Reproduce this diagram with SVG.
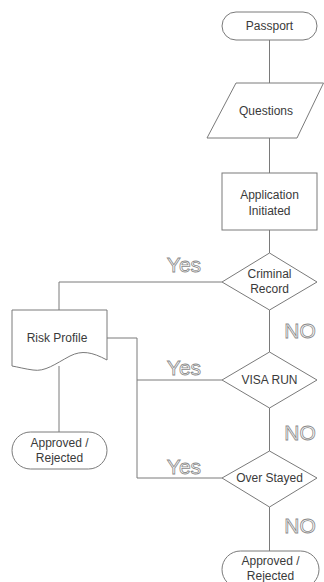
<svg xmlns="http://www.w3.org/2000/svg" width="324" height="582" viewBox="0 0 324 582">
<style>
.s{fill:#fff;stroke:#7a7a7a;stroke-width:1}
.c{fill:none;stroke:#7a7a7a;stroke-width:1}
.t{font-family:"Liberation Sans",Arial,sans-serif;font-size:12px;fill:#3a3a3a;text-anchor:middle}
.o{font-family:"Liberation Sans",Arial,sans-serif;font-size:21px;fill:#fff;stroke:#8a8a8a;stroke-width:0.8;text-anchor:middle}
</style>
<rect width="324" height="582" fill="#fff"/>
<g id="connectors">
<path class="c" d="M269.5,40V83M269.5,138V173M269.5,230V253M269.5,310V352M269.5,408V451M269.5,507V551"/>
<path class="c" d="M222,282H59V310"/>
<path class="c" d="M59,366V432"/>
<path class="c" d="M107,338H137V478H222"/>
<path class="c" d="M222,380H137"/>
</g>
<g id="labels">
<text class="o" x="184" y="272">Yes</text>
<text class="o" x="184" y="375">Yes</text>
<text class="o" x="184" y="474">Yes</text>
<text class="o" x="300" y="338">NO</text>
<text class="o" x="300" y="440">NO</text>
<text class="o" x="300" y="533">NO</text>
</g>
<g id="passport">
<rect class="s" x="222" y="12" width="95" height="28" rx="14"/>
<text class="t" x="269.5" y="30">Passport</text>
</g>
<g id="questions">
<polygon class="s" points="236,83 323.5,83 297,138 207,138"/>
<text class="t" x="266" y="115">Questions</text>
</g>
<g id="application">
<rect class="s" x="222" y="173" width="95" height="57"/>
<text class="t" x="269.5" y="199">Application</text>
<text class="t" x="269.5" y="215">Initiated</text>
</g>
<g id="criminal">
<polygon class="s" points="269.5,253 317,282 269.5,310 222,282"/>
<text class="t" x="269.5" y="278">Criminal</text>
<text class="t" x="269.5" y="293">Record</text>
</g>
<g id="visa">
<polygon class="s" points="269.5,352 317,380 269.5,408 222,380"/>
<text class="t" x="269.5" y="384">VISA RUN</text>
</g>
<g id="overstayed">
<polygon class="s" points="269.5,451 317,478 269.5,507 222,478"/>
<text class="t" x="269.5" y="482">Over Stayed</text>
</g>
<g id="risk">
<path class="s" d="M12,310H107V360C92,352 82,350 70,356C55,364 45,372 33,370C25,369 18,367 12,366Z"/>
<text class="t" x="57" y="342">Risk Profile</text>
</g>
<g id="approved-left">
<rect class="s" x="12" y="432" width="95" height="37" rx="18.5"/>
<text class="t" x="59.5" y="447">Approved /</text>
<text class="t" x="59.5" y="462">Rejected</text>
</g>
<g id="approved-bottom">
<rect class="s" x="222" y="551" width="97" height="37" rx="18.5"/>
<text class="t" x="270.5" y="565">Approved /</text>
<text class="t" x="270.5" y="580">Rejected</text>
</g>
</svg>
